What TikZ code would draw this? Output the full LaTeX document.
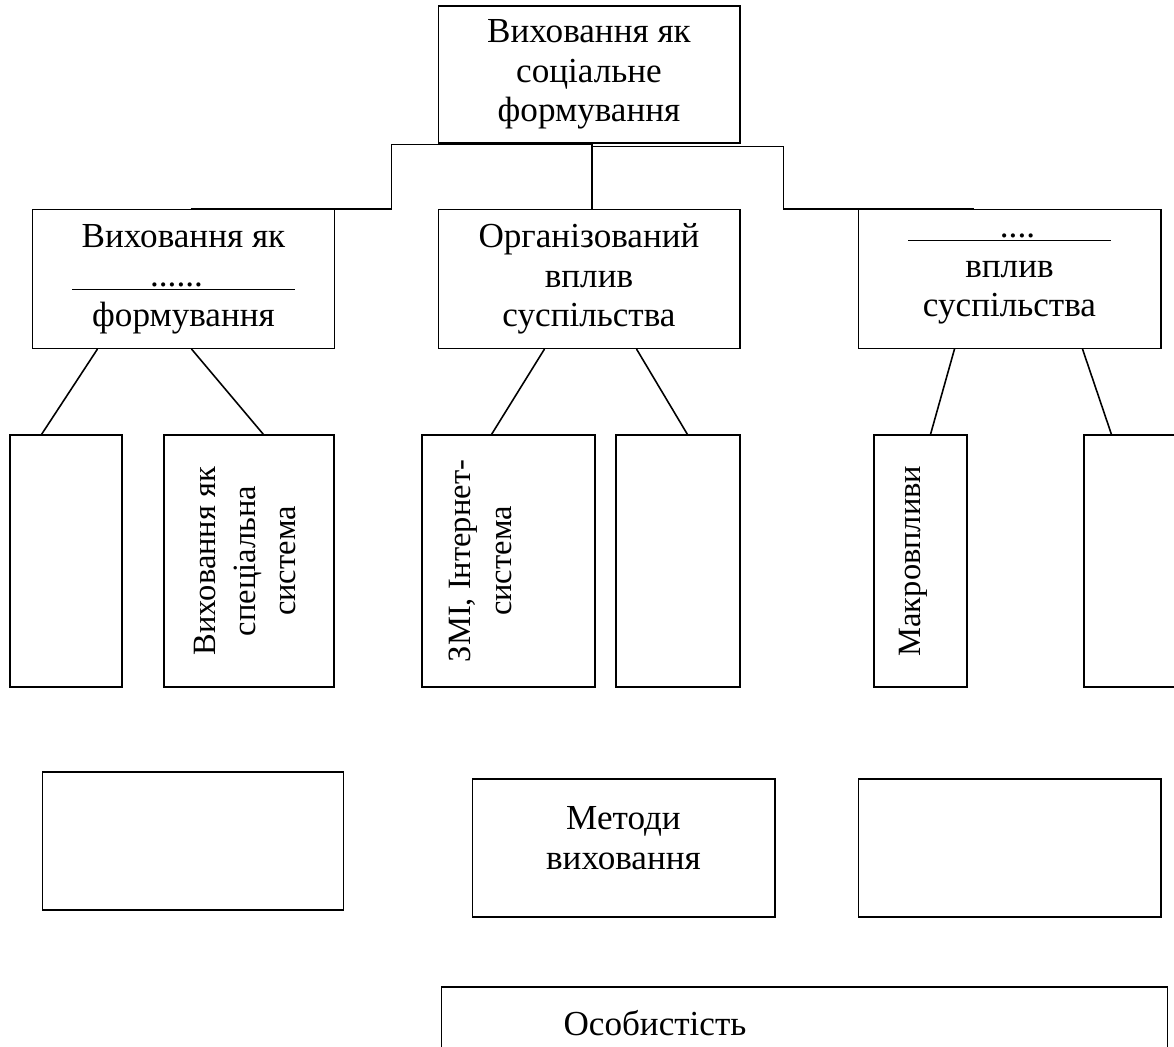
\documentclass[tikz,border=0pt]{standalone}
\usepackage{fontspec}
\setmainfont{Liberation Serif}
\usetikzlibrary{positioning,calc}

\tikzset{
  box/.style={draw=black, line width=0.6pt, rectangle, inner sep=0pt, align=center,
    font=\fontsize{20}{22.5}\selectfont},
  vtext/.style={inner sep=0pt, align=center, rotate=90, font=\fontsize{18.5}{23}\selectfont},
  link/.style={line width=0.9pt},
}

\begin{document}
\begin{tikzpicture}[x=0.02cm,y=-0.02cm]
\useasboundingbox (0,0) rectangle (1174,1047);
% top level
\node[box,minimum width=6.04cm,minimum height=2.74cm] (top) at (589,74.5) {Виховання як\\соціальне\\формування};
% second level
\node[box,minimum width=6.06cm,minimum height=2.78cm] (A) at (183.5,279) {Виховання як\\\underline{\hspace{1.56cm}......\hspace{1.84cm}}\\формування};
\node[box,minimum width=6.04cm,minimum height=2.78cm] (B) at (589,279) {Організований\\вплив\\суспільства};
\node[box,minimum width=6.06cm,minimum height=2.78cm] (C) at (1009.5,279) {\underline{\hspace{1.83cm}....\hspace{1.51cm}}\\вплив\\суспільства};
\draw[link] ($(A.north west)+(159,0)$) -- ++(201,0) |- ($(top.south)+(3,1)$) -- ($(B.north)+(3,0)$);
\draw[link] ($(top.south)+(3,3)$) -| ($(C.north west)+(-74,0)$) -- ++(190,0);
% third level
\begin{scope}[every node/.style={box,minimum height=5.04cm}]
\node[minimum width=2.24cm] (a1) at (66,561) {};
\node[minimum width=3.4cm] (a2) at (249,561) {};
\node[minimum width=3.46cm] (b1) at (508.5,561) {};
\node[minimum width=2.48cm] (b2) at (678,561) {};
\node[minimum width=1.86cm] (c1) at (920.5,561) {};
\node[minimum width=2.4cm] (c2) at (1144,561) {};
\end{scope}
\node[vtext] (a2t) at ($(a2)+(-4,0)$) {Виховання як\\спеціальна\\система};
\node[vtext] (b1t) at ($(b1)+(-28,0)$) {ЗМІ, Інтернет-\\система};
\node[vtext] (c1t) at ($(c1)+(-7,0)$) {Макровпливи};
\foreach \p/\q/\u/\v in {A/a1/66/32, A/a2/160/100, B/b1/107/70, B/b2/199/72, C/c1/97/57, C/c2/225/28}{%
\draw[link] ($(\p.south west)+(\u,0)$) -- ($(\q.north west)+(\v,0)$);
}
% fourth level
\node[box,minimum width=6.04cm,minimum height=2.76cm] (d1) at (193,841) {};
\node[box,minimum width=6.06cm,minimum height=2.76cm] (d2) at (623.5,848) {};
\node[box,minimum width=6.06cm,minimum height=2.76cm] (d3) at (1009.5,848) {};
\node[inner sep=0pt,align=center,font=\fontsize{20}{22.5}\selectfont] (d2t) at ($(d2)+(0,-10)$) {Методи\\виховання};
% bottom
\node[box,minimum width=14.54cm,minimum height=1.86cm] (pers) at (804.5,1033.5) {};
\node[inner sep=0pt,font=\fontsize{20}{22.5}\selectfont] (perst) at (655,1023) {Особистість};
\end{tikzpicture}
\end{document}
